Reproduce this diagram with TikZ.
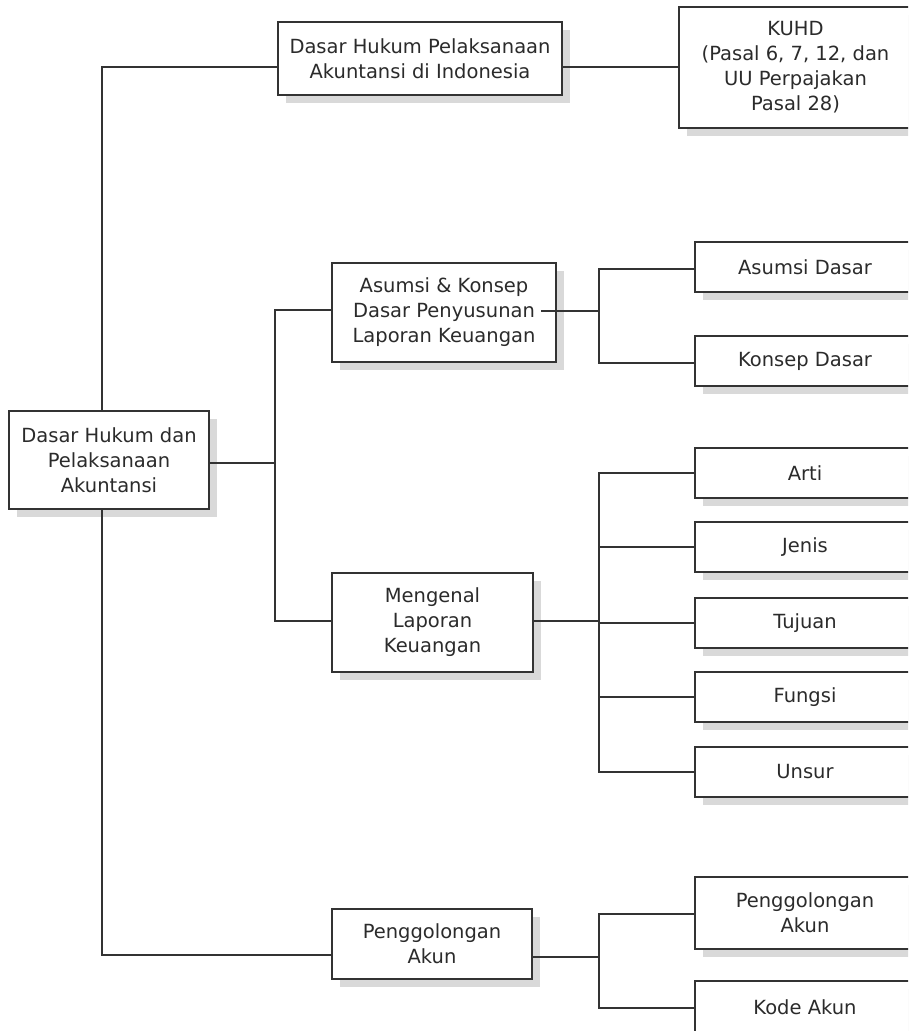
\documentclass[tikz,border=0pt]{standalone}
\usepackage{fontspec}
\setmainfont{DejaVu Sans}
\usetikzlibrary{shadows}
\definecolor{linecol}{HTML}{333333}
\definecolor{textcol}{HTML}{2B2B2B}
\definecolor{shadowcol}{HTML}{D9D9D9}
\begin{document}
\begin{tikzpicture}[x=1pt,y=-1pt,
  box/.style={draw=linecol, line width=1.3pt, fill=white, text=textcol,
    align=center, inner sep=0pt,
    font=\fontsize{19.5}{25}\selectfont,
    drop shadow={shadow xshift=8pt, shadow yshift=-8pt, fill=shadowcol, opacity=1}},
  rbox/.style={box, minimum width=220pt, minimum height=50pt},
  conn/.style={draw=linecol, line width=1.3pt}]
\useasboundingbox (0,0) rectangle (908,1031);
\clip (0,0) rectangle (908,1031);

\node[box, minimum width=200pt, minimum height=98pt] (root) at (109,460) {Dasar Hukum dan\\Pelaksanaan\\Akuntansi};
\node[box, minimum width=284pt, minimum height=73pt] (top) at (420,58.5) {Dasar Hukum Pelaksanaan\\Akuntansi di Indonesia};
\node[box, minimum width=233pt, minimum height=121pt] (kuhd) at (795.5,67.5) {KUHD\\(Pasal 6, 7, 12, dan\\UU Perpajakan\\Pasal 28)};
\node[box, minimum width=224pt, minimum height=99pt] (asumsi) at (444,312.5) {Asumsi \& Konsep\\Dasar Penyusunan\\Laporan Keuangan};
\node[box, minimum width=201pt, minimum height=99pt] (mengenal) at (432.5,622.5) {Mengenal\\Laporan\\Keuangan};
\node[box, minimum width=200pt, minimum height=70pt] (peng) at (432,944) {Penggolongan\\Akun};

\node[rbox] (ad) at (805,267) {Asumsi Dasar};
\node[rbox] (kd) at (805,361) {Konsep Dasar};
\node[rbox] (arti) at (805,473) {Arti};
\node[rbox] (jenis) at (805,547) {Jenis};
\node[rbox] (tujuan) at (805,623) {Tujuan};
\node[rbox] (fungsi) at (805,697) {Fungsi};
\node[rbox] (unsur) at (805,772) {Unsur};
\node[rbox, minimum height=72pt] (pa) at (805,913) {Penggolongan\\Akun};
\node[rbox, minimum height=52pt] (ka) at (805,1007) {Kode Akun};

% trunk
\draw[conn] ([xshift=-7pt]root.north) |- ([yshift=-8.5pt]top.west);
\draw[conn] ([xshift=-7pt]root.south) |- ([yshift=-11pt]peng.west);
\draw[conn] ([yshift=-8.5pt]top.east) -- ([yshift=-8.5pt]top.east -| kuhd.west);

% second level
\coordinate (j1) at (275,463);
\draw[conn] ([yshift=-3pt]root.east) -- (j1);
\draw[conn] ([yshift=2.5pt]asumsi.west) -| (j1) |- ([yshift=1.5pt]mengenal.west);

% asumsi branch
\coordinate (aout) at (541,311);
\coordinate (j2) at (599,311);
\draw[conn] (aout) -- (j2);
\draw[conn] ([yshift=-2pt]ad.west) -| (j2) |- ([yshift=-2pt]kd.west);

% mengenal branch
\coordinate (j3) at (599,621);
\draw[conn] (mengenal.east |- j3) -- (j3);
\draw[conn] (arti.west) -| (j3) |- (unsur.west);
\foreach \n in {jenis,tujuan,fungsi}{\draw[conn] (\n.west) -- (\n.west -| j3);}

% penggolongan branch
\coordinate (j4) at (599,957);
\draw[conn] ([yshift=-13pt]peng.east) -- (j4);
\draw[conn] ([yshift=-1pt]pa.west) -| (j4) |- ([yshift=-1pt]ka.west);
\end{tikzpicture}
\end{document}
